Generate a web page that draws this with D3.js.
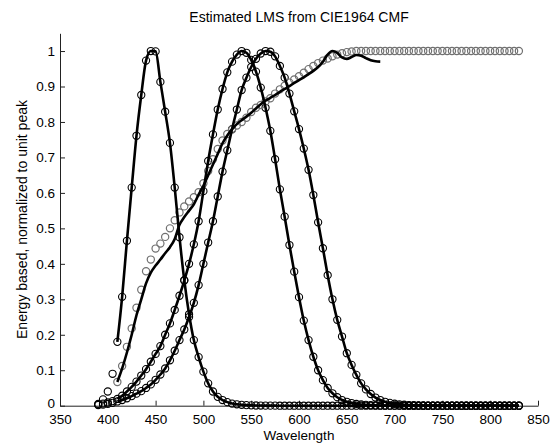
<!DOCTYPE html>
<html>
<head>
<meta charset="utf-8">
<script src="https://cdn.jsdelivr.net/npm/d3@7"></script>
<style>
body { margin: 0; background: #fff; }
</style>
</head>
<body>
<svg width="556" height="444"></svg>
<script>
// wavelength grids (nm), 5 nm steps
const wavelengths = d3.range(390, 835, 5);      // cone fundamentals
const ratioWavelengths = d3.range(410, 835, 5); // grey ratio circles
const ratioLineWavelengths = d3.range(410, 690, 5);
const lineStart = 410; // estimated curves start here

// cone fundamentals (circles), 390..830
const sCone = [0.005,0.018,0.04,0.09,0.18,0.307,0.465,0.615,0.761,0.876,
  0.973,1.0,0.999,0.913,0.829,0.741,0.615,0.475,0.354,0.258,
  0.185,0.137,0.096,0.063,0.04,0.025,0.016,0.01,0.006,0.004,
  0.0025,0.0016,0.001,0.0006,0.0004,0.0002,0.0001,0.0001,
  0,0,0,0,0,0,0,0,0,0,0,0,0,0,0,0,0,0,0,0,0,0,0,0,0,0,
  0,0,0,0,0,0,0,0,0,0,0,0,0,0,0,0,0,0,0,0,0,0,0,0,0];
const mCone = [0.003,0.006,0.009,0.013,0.019,0.028,0.04,0.053,0.068,0.085,
  0.103,0.124,0.146,0.168,0.2,0.232,0.27,0.31,0.353,0.40,
  0.455,0.52,0.605,0.69,0.765,0.835,0.893,0.94,0.97,0.99,
  1.0,0.995,0.975,0.942,0.897,0.84,0.775,0.695,0.61,0.533,
  0.453,0.378,0.306,0.24,0.185,0.138,0.1,0.072,0.05,0.035,
  0.024,0.016,0.011,0.0075,0.005,0.0034,0.0023,0.0016,0.001,0.0007,
  0.0005,0.0003,0.0002,0.0001,
  0,0,0,0,0,0,0,0,0,0,0,0,0,0,0,0,0,0,0,0,0,0,0,0,0];
const lCone = [0.002,0.003,0.005,0.008,0.012,0.016,0.021,0.027,0.034,0.041,
  0.05,0.06,0.073,0.088,0.105,0.128,0.155,0.185,0.215,0.25,
  0.29,0.34,0.40,0.46,0.52,0.59,0.66,0.72,0.78,0.835,
  0.89,0.925,0.955,0.978,0.993,1.0,0.998,0.985,0.958,0.925,
  0.88,0.83,0.78,0.725,0.665,0.594,0.517,0.444,0.368,0.3,
  0.242,0.195,0.148,0.115,0.087,0.063,0.046,0.033,0.023,0.016,
  0.011,0.008,0.0055,0.004,0.0027,0.0019,0.0013,0.0009,0.0006,0.0004,
  0.0003,0.0002,0.0001,
  0,0,0,0,0,0,0,0,0,0,0,0,0,0,0,0];

// grey circles, 410..830
const ratio = [0.067,0.112,0.166,0.218,0.276,0.327,0.379,0.412,0.443,0.457,
  0.476,0.5,0.523,0.545,0.562,0.576,0.588,0.602,0.627,0.662,
  0.695,0.724,0.748,0.766,0.779,0.79,0.8,0.812,0.828,0.84,
  0.848,0.858,0.867,0.88,0.892,0.902,0.911,0.92,0.929,0.939,
  0.949,0.958,0.966,0.973,0.979,0.985,0.99,0.994,0.997,0.999,
  1,1,1,1,1,1,1,1,1,1,1,1,1,1,1,1,1,1,1,1,
  1,1,1,1,1,1,1,1,1,1,1,1,1,1,1];
// black line over the grey circles, 410..685
const ratioLine = [0.067,0.105,0.15,0.2,0.255,0.3,0.345,0.375,0.395,0.412,
  0.43,0.447,0.47,0.51,0.532,0.55,0.568,0.595,0.62,0.65,
  0.68,0.71,0.74,0.762,0.78,0.794,0.805,0.815,0.826,0.838,
  0.85,0.86,0.868,0.876,0.885,0.893,0.901,0.91,0.918,0.926,
  0.935,0.944,0.955,0.97,0.99,1.0,0.995,0.982,0.978,0.983,
  0.989,0.987,0.98,0.974,0.971,0.97];

const xTicks = [350,400,450,500,550,600,650,700,750,800,850];
const yTicks = [0,0.1,0.2,0.3,0.4,0.5,0.6,0.7,0.8,0.9,1];
const yTickLabels = ['0','0.1','0.2','0.3','0.4','0.5','0.6','0.7','0.8','0.9','1'];

const font = '"Liberation Sans", Arial, Helvetica, sans-serif';
const svg = d3.select('svg');

const x = d3.scaleLinear().domain([350, 850]).range([60, 538]);
const y = d3.scaleLinear().domain([0, 1.05]).range([405.7, 33.3]);

// axes, ticks pointing inwards, no box
const gx = svg.append('g')
    .attr('transform', 'translate(0,405.7)')
    .call(d3.axisBottom(x).tickValues(xTicks).tickSizeInner(-5).tickSizeOuter(0).tickPadding(9));
const gy = svg.append('g')
    .attr('transform', 'translate(60,0)')
    .call(d3.axisLeft(y).tickValues(yTicks).tickFormat((d, i) => yTickLabels[i])
      .tickSizeInner(-5).tickSizeOuter(0).tickPadding(5));
[gx, gy].forEach(g => {
  g.attr('font-family', font).attr('font-size', 13.5);
  g.selectAll('path, line').attr('stroke', '#222');
  g.selectAll('text').attr('fill', '#000');
});
gy.select('.tick text').attr('dy', '0.1em'); // the 0 label sits a little higher

// circles: actual fundamentals
const circleLayer = svg.append('g').attr('fill', 'none');
[sCone, mCone, lCone].forEach(vals => {
  circleLayer.append('g')
    .selectAll('circle')
    .data(wavelengths.map((w, i) => [w, vals[i]]))
    .join('circle')
      .attr('cx', d => x(d[0]))
      .attr('cy', d => y(d[1]))
      .attr('r', 3.6)
      .attr('stroke', '#000')
      .attr('stroke-width', 1.1);
});
circleLayer.append('g')
  .selectAll('circle')
  .data(ratioWavelengths.map((w, i) => [w, ratio[i]]))
  .join('circle')
    .attr('cx', d => x(d[0]))
    .attr('cy', d => y(d[1]))
    .attr('r', 3.6)
    .attr('stroke', '#707070')
    .attr('stroke-width', 1.2);

// lines: estimates
const line = d3.line()
    .x(d => x(d[0]))
    .y(d => y(d[1]))
    .curve(d3.curveMonotoneX);
const estimates = [sCone, mCone, lCone].map(vals =>
  wavelengths.map((w, i) => [w, vals[i]]).filter(d => d[0] >= lineStart));
estimates.push(ratioLineWavelengths.map((w, i) => [w, ratioLine[i]]));
svg.append('g')
  .selectAll('path')
  .data(estimates)
  .join('path')
    .attr('d', line)
    .attr('fill', 'none')
    .attr('stroke', '#000')
    .attr('stroke-width', 2.6)
    .attr('stroke-linejoin', 'round');

// title and labels
svg.append('text')
    .attr('x', 299).attr('y', 21.7)
    .attr('text-anchor', 'middle')
    .attr('font-family', font).attr('font-size', 14)
    .text('Estimated LMS from CIE1964 CMF');
svg.append('text')
    .attr('x', 299).attr('y', 439.5)
    .attr('text-anchor', 'middle')
    .attr('font-family', font).attr('font-size', 13.5)
    .text('Wavelength');
svg.append('text')
    .attr('transform', 'translate(26.5,219.5) rotate(-90)')
    .attr('text-anchor', 'middle')
    .attr('font-family', font).attr('font-size', 14)
    .text('Energy based, normalized to unit peak');
</script>
</body>
</html>
